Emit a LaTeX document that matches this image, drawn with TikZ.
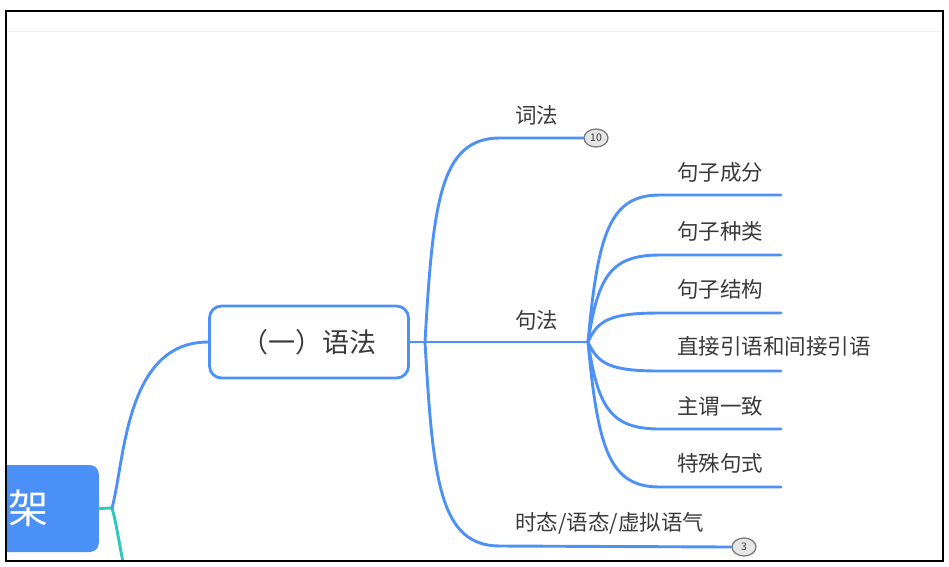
\documentclass[tikz,border=0pt]{standalone}
\usepackage{fontspec}
\usepackage{xcolor}
\usepackage{tikz}
\usetikzlibrary{shapes.geometric}
\setmainfont{Noto Sans CJK SC}
\definecolor{linkcolor}{HTML}{4D91F7}
\definecolor{rootcolor}{HTML}{4A90F7}
\definecolor{tealcolor}{HTML}{2CC8BE}
\definecolor{labelcolor}{HTML}{3A3A3A}
\definecolor{badgefill}{HTML}{E6E6E6}
\definecolor{badgeline}{HTML}{7A7A7A}
\definecolor{ruleline}{HTML}{EFEFEF}
\tikzset{
  link/.style={draw=linkcolor, line width=2.9pt, line cap=round},
  tealink/.style={draw=tealcolor, line width=2.9pt, line cap=round},
  rootbox/.style={fill=rootcolor, rounded corners=9pt, text=white, font=\fontsize{40pt}{48pt}\selectfont, minimum height=87pt, text width=100pt, align=right, inner xsep=50pt},
  topicbox/.style={draw=linkcolor, line width=2.8pt, rounded corners=12pt, fill=white, text=labelcolor, font=\fontsize{27pt}{32pt}\selectfont, minimum width=199pt, minimum height=72pt},
  leaf/.style={anchor=west, inner sep=0pt, text=labelcolor, font=\fontsize{21.5pt}{26pt}\selectfont},
  badge/.style={ellipse, draw=badgeline, line width=1.3pt, fill=badgefill, text=labelcolor, inner sep=0pt, minimum width=24pt, minimum height=18pt, font=\fontsize{10.5pt}{12pt}\selectfont}
}

\begin{document}
\begin{tikzpicture}[x=1pt,y=-1pt]
\useasboundingbox (0,0) rectangle (949,566);
\begin{scope}
\clip (6,11) rectangle (943,561);
\draw[ruleline, line width=1pt] (6,31) -- (943,31);
% root and first topic
\node[rootbox, anchor=east] (root) at (99,508.5) {架};
\node[topicbox] (yufa) at (309,342) {（一）语法};
\coordinate (rootfork) at (112,508);
\coordinate (nexttopic) at (209.5,674);
\draw[tealink] (root.east) -- (rootfork) .. controls +(14,48) and +(-83,0) .. (nexttopic);
\draw[link] (rootfork) .. controls +(13,-48) and +(-83,0) .. (yufa.west);
% second level
\coordinate (yfork) at (425,342);
\coordinate (cifa) at (500,138);
\coordinate (jufa) at (588,342);
\coordinate (shitai) at (500,546);
\node[badge] (badge10) at (596,138) {10};
\node[badge] (badge3) at (744,547) {3};
\draw[link] (yufa.east) -- (yfork);
\draw[link] (yfork) .. controls +(8,-140) and +(-60,0) .. (cifa) -- (badge10.west);
\draw[link] (yfork) -- (jufa);
\draw[link] (yfork) .. controls +(8,140) and +(-60,0) .. (shitai) -- (badge3.west);
\node[leaf] (cifa label) at (515,115) {词法};
\node[leaf] (jufa label) at (515,320) {句法};
\node[leaf] (shitai label) at (515,523) {时态/语态/虚拟语气};
% third level under jufa
\coordinate (jz1) at (660,195);
\coordinate (jz2) at (660,255);
\coordinate (jz3) at (660,313);
\coordinate (jz4) at (660,371);
\coordinate (jz5) at (660,429);
\coordinate (jz6) at (660,487);
\coordinate (jz1 end) at (781,195);
\coordinate (jz2 end) at (781,255);
\coordinate (jz3 end) at (781,313);
\coordinate (jz4 end) at (781,371);
\coordinate (jz5 end) at (781,429);
\coordinate (jz6 end) at (781,487);
\draw[link] (jufa) .. controls +(10,-110) and +(-50,0) .. (jz1) -- (jz1 end);
\draw[link] (jufa) .. controls +(10,-65) and +(-50,0) .. (jz2) -- (jz2 end);
\draw[link] (jufa) .. controls +(10,-22) and +(-50,0) .. (jz3) -- (jz3 end);
\draw[link] (jufa) .. controls +(10,22) and +(-50,0) .. (jz4) -- (jz4 end);
\draw[link] (jufa) .. controls +(10,65) and +(-50,0) .. (jz5) -- (jz5 end);
\draw[link] (jufa) .. controls +(10,109) and +(-50,0) .. (jz6) -- (jz6 end);
\node[leaf] (jz1 label) at (677,172.5) {句子成分};
\node[leaf] (jz2 label) at (677,231.5) {句子种类};
\node[leaf] (jz3 label) at (677,289) {句子结构};
\node[leaf] (jz4 label) at (677,346.5) {直接引语和间接引语};
\node[leaf] (jz5 label) at (677,406) {主谓一致};
\node[leaf] (jz6 label) at (677,463) {特殊句式};
\end{scope}
% frame
\draw[black, line width=1.8pt] (6,11) rectangle (943,561);
\end{tikzpicture}
\end{document}
